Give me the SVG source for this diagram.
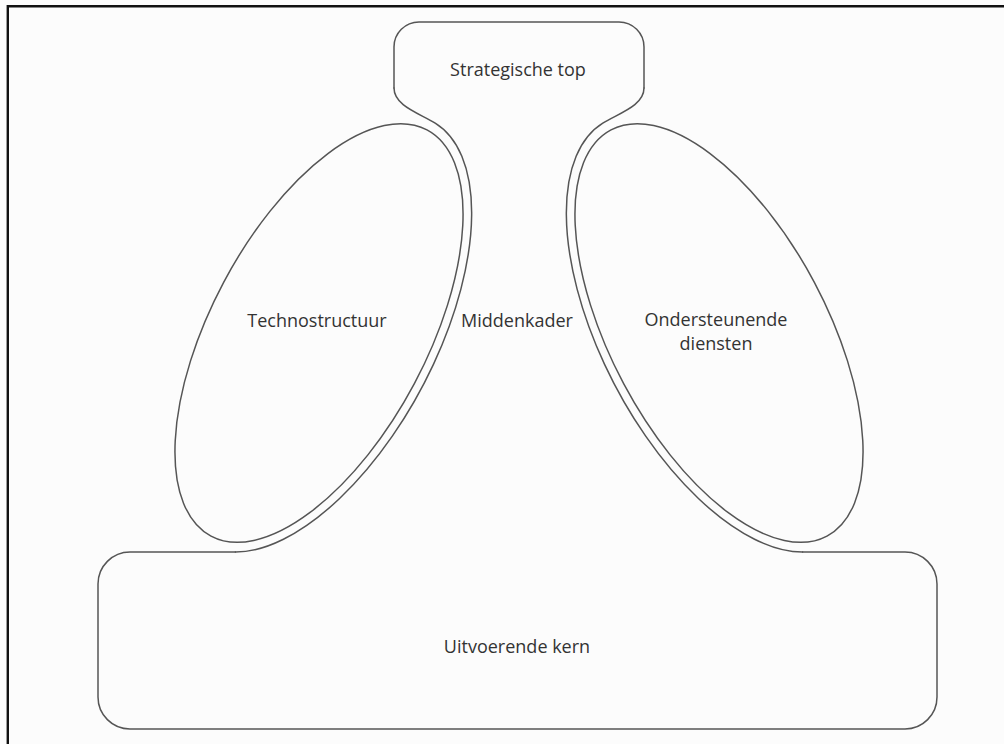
<svg xmlns="http://www.w3.org/2000/svg" width="1004" height="744" viewBox="0 0 1004 744">
  <style>
    .ln { fill: none; stroke: #555; stroke-width: 1.5; stroke-linecap: round; stroke-linejoin: round; }
    .lbl { font-family: "Open Sans", "Noto Sans", "Liberation Sans", sans-serif; font-size: 18px; fill: #333; text-anchor: middle; }
  </style>
  <rect x="0" y="0" width="1004" height="744" fill="#fcfcfc"/>
  <path d="M7.8 744 L7.8 6.2 L1004 6.2" fill="none" stroke="#111" stroke-width="2.4"/>

  <g id="strategische-top">
    <path class="ln" d="M394 88 L394 47 A25 25 0 0 1 419 22 L619 22 A25 25 0 0 1 644 47 L644 88"/>
    <text class="lbl" x="518" y="76">Strategische top</text>
  </g>

  <g id="technostructuur">
    <ellipse class="ln" cx="319" cy="333" rx="108" ry="230" transform="rotate(28 319 333)"/>
    <text class="lbl" x="317" y="327">Technostructuur</text>
  </g>

  <g id="ondersteunende-diensten">
    <ellipse class="ln" cx="719" cy="333" rx="108" ry="230" transform="rotate(-28 719 333)"/>
    <text class="lbl" x="716" y="326">Ondersteunende</text>
    <text class="lbl" x="716" y="350">diensten</text>
  </g>

  <g id="middenkader">
    <text class="lbl" x="517" y="327">Middenkader</text>
  </g>

  <g id="uitvoerende-kern">
    <path class="ln" d="M235.4 552 L130 552 A32 32 0 0 0 98 584 L98 697 A32 32 0 0 0 130 729 L905 729 A32 32 0 0 0 937 697 L937 584 A32 32 0 0 0 905 552 L802.6 552"/>
    <text class="lbl" x="517" y="653">Uitvoerende kern</text>
  </g>

  <g id="connectors">
    <path class="ln" d="M394 88 C394 106 420 113.5 435.2 123.1 A116 240 28 0 1 235.4 552"/>
    <path class="ln" d="M644 88 C644 106 618 113.5 602.8 123.1 A116 240 -28 0 0 802.6 552"/>
  </g>
</svg>
